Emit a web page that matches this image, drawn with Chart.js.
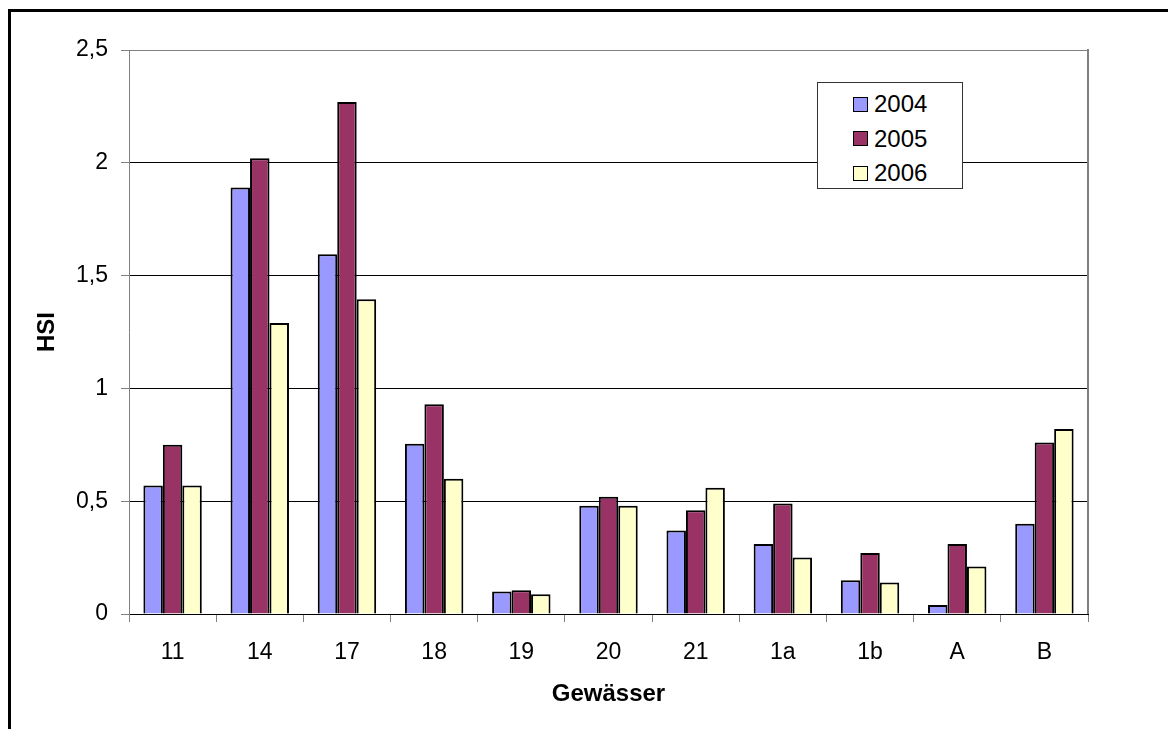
<!DOCTYPE html>
<html>
<head>
<meta charset="utf-8">
<script src="https://cdn.jsdelivr.net/npm/chart.js@4"></script>
<style>
    html, body { margin: 0; padding: 0; background: #fff; }
    #wrap { position: relative; width: 1168px; height: 729px; overflow: hidden; }
    #rahmen {
        position: absolute; left: 8px; top: 9px; width: 1300px; height: 900px;
        border-left: 3px solid #000; border-top: 3px solid #000;
    }
    #grafik { position: absolute; left: 0; top: 0; }
    #legende {
        position: absolute; left: 817px; top: 82px; width: 146px; height: 107px;
        background: #fff; border: 1px solid #333; box-sizing: border-box;
        font-family: "Liberation Sans", Arial, sans-serif; font-size: 24px; color: #000;
        padding-top: 4px;
    }
    #legende .eintrag { display: flex; align-items: center; height: 34.5px; padding-left: 35px; }
    #legende .kasten { width: 13px; height: 13px; border: 1px solid #000; margin-right: 6px; }
</style>
</head>
<body>
<div id="wrap">
    <div id="rahmen"></div>
    <canvas id="grafik" width="1168" height="729"></canvas>
    <div id="legende"></div>
</div>
<script>
    // Gewässer (Kategorien)
    const gewaesser = ['11', '14', '17', '18', '19', '20', '21', '1a', '1b', 'A', 'B'];

    // HSI-Werte je Jahr
    const hsi2004 = [0.57, 1.89, 1.595, 0.755, 0.10, 0.48, 0.37, 0.31, 0.15, 0.04, 0.40];
    const hsi2005 = [0.75, 2.02, 2.27, 0.93, 0.105, 0.52, 0.46, 0.49, 0.27, 0.31, 0.76];
    const hsi2006 = [0.57, 1.29, 1.395, 0.60, 0.087, 0.48, 0.56, 0.25, 0.14, 0.21, 0.82];

    const jahre = ['2004', '2005', '2006'];
    const farben = ['#9999FF', '#993366', '#FFFFCC'];

    const schrift = "'Liberation Sans', Arial, sans-serif";

    // rechter Rand der Zeichenfläche (grau)
    const rahmenPlugin = {
        id: 'rahmenRechts',
        afterDraw(chart) {
            const { ctx, chartArea } = chart;
            ctx.save();
            ctx.strokeStyle = '#808080';
            ctx.lineWidth = 2;
            ctx.beginPath();
            ctx.moveTo(chartArea.right, chartArea.top - 1);
            ctx.lineTo(chartArea.right, chartArea.bottom);
            ctx.stroke();
            ctx.restore();
        }
    };

    const datensaetze = [hsi2004, hsi2005, hsi2006].map((werte, i) => ({
        label: jahre[i],
        data: werte,
        backgroundColor: farben[i],
        borderColor: '#000',
        borderWidth: 2,
        categoryPercentage: 0.67,
        barPercentage: 1.0
    }));

    const grafik = new Chart(document.getElementById('grafik'), {
        type: 'bar',
        data: { labels: gewaesser, datasets: datensaetze },
        options: {
            responsive: false,
            animation: false,
            layout: { padding: { left: 0, top: 50, right: 80, bottom: 0 } },
            plugins: { legend: { display: false }, tooltip: { enabled: false } },
            scales: {
                x: {
                    afterFit: (scale) => { scale.height = 115; },
                    grid: { offset: true, drawOnChartArea: false, drawTicks: true, tickLength: 8, color: '#808080' },
                    border: { color: '#000', width: 1 },
                    ticks: { color: '#000', padding: 17, font: { family: schrift, size: 23 } },
                    title: {
                        display: true, text: 'Gewässer', color: '#000',
                        font: { family: schrift, size: 24, weight: 'bold' },
                        padding: { top: 0, bottom: 20 }
                    }
                },
                y: {
                    min: 0, max: 2.5,
                    afterFit: (scale) => { scale.width = 129; },
                    grid: {
                        color: (c) => (c.tick && c.tick.value === 2.5 ? '#808080' : '#000'),
                        tickColor: '#808080', tickLength: 8, lineWidth: 1
                    },
                    border: { color: '#808080', width: 1 },
                    ticks: {
                        stepSize: 0.5, color: '#000', padding: 13,
                        font: { family: schrift, size: 23 },
                        callback: (v) => String(v).replace('.', ',')
                    },
                    title: {
                        display: true, text: 'HSI', color: '#000',
                        font: { family: schrift, size: 24, weight: 'bold' },
                        padding: { top: 33, bottom: 0 }
                    }
                }
            }
        },
        plugins: [rahmenPlugin]
    });

    // Legende als HTML im Diagramm
    const legende = document.getElementById('legende');
    grafik.data.datasets.forEach(ds => {
        const zeile = document.createElement('div');
        zeile.className = 'eintrag';
        const kasten = document.createElement('span');
        kasten.className = 'kasten';
        kasten.style.background = ds.backgroundColor;
        const text = document.createElement('span');
        text.textContent = ds.label;
        zeile.appendChild(kasten);
        zeile.appendChild(text);
        legende.appendChild(zeile);
    });
</script>
</body>
</html>
